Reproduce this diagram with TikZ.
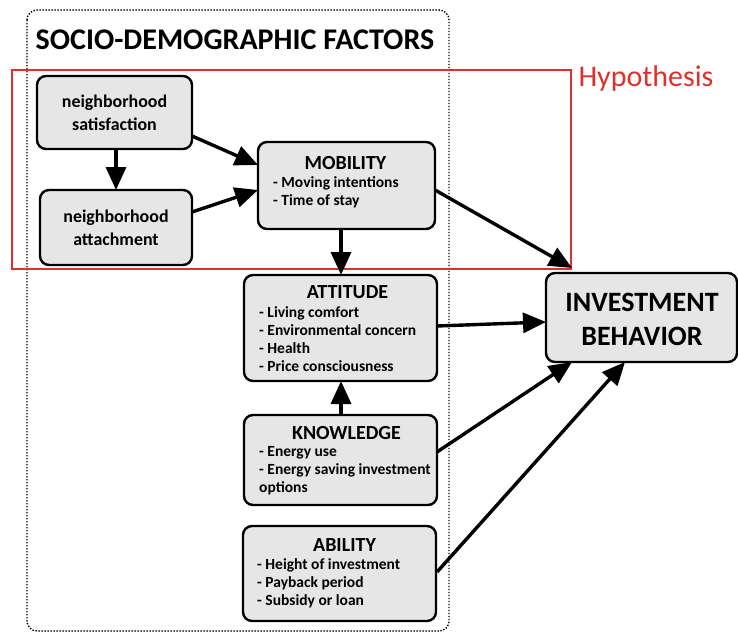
\documentclass[tikz,border=0pt]{standalone}
\usepackage{fontspec}
\setmainfont{Carlito}
\usetikzlibrary{arrows.meta}
\definecolor{boxgray}{HTML}{E6E6E6}
\definecolor{hypred}{HTML}{E0302A}
\tikzset{
  box/.style={draw=black, line width=2.4pt, rounded corners=9pt, fill=boxgray, inner sep=0pt},
  conn/.style={line width=3.4pt, -{Triangle[length=23pt,width=20pt]}},
  ttl/.style={font=\bfseries\fontsize{20}{22}\selectfont, inner sep=0pt},
  items/.style={font=\bfseries\fontsize{15.5}{18}\selectfont, align=left, inner sep=0pt, anchor=north west},
  nbtxt/.style={font=\bfseries\fontsize{17.9}{23}\selectfont, align=center, inner sep=0pt}
}
\begin{document}
\begin{tikzpicture}[x=1pt,y=-1pt]
\useasboundingbox (0,0) rectangle (738,634);
% outer dotted frame
\draw[line width=1.4pt, dash pattern=on 1.4pt off 1.6pt, rounded corners=10pt] (27,10) rectangle (449,631);
\node[font=\bfseries\fontsize{30}{33}\selectfont, inner sep=0pt] (title) at (235,40) {SOCIO-DEMOGRAPHIC FACTORS};
% hypothesis frame
\draw[hypred, line width=1.6pt] (12,70) rectangle (571,269);
\node[hypred, font=\fontsize{30}{33}\selectfont, inner sep=0pt] (hyp) at (646,79) {Hypothesis};
% boxes
\node[box, minimum width=155pt, minimum height=73pt] (sat) at (114.5,112.5) {};
\node[nbtxt] (satt) at (114.5,113) {neighborhood\\satisfaction};
\node[box, minimum width=152pt, minimum height=75pt] (att) at (116,227.5) {};
\node[nbtxt] (attt) at (116,228) {neighborhood\\attachment};
\node[box, minimum width=177pt, minimum height=87pt] (mob) at (346.5,185.5) {};
\node[ttl] (mobt) at (345.5,163) {MOBILITY};
\node[items] (mobi) at (273,176.5) {- Moving intentions\\- Time of stay};
\node[box, minimum width=193pt, minimum height=106pt] (atd) at (340.5,328) {};
\node[ttl] (atdt) at (347.5,292) {ATTITUDE};
\node[items] (atdi) at (259,306) {- Living comfort\\- Environmental concern\\- Health\\- Price consciousness};
\node[box, minimum width=193pt, minimum height=90pt] (knw) at (340.5,460) {};
\node[ttl] (knwt) at (346.5,433) {KNOWLEDGE};
\node[items] (knwi) at (259,446.5) {- Energy use\\- Energy saving investment\\options};
\node[box, minimum width=193pt, minimum height=95pt] (abl) at (339.5,573.5) {};
\node[ttl] (ablt) at (344.5,545) {ABILITY};
\node[items] (abli) at (257,558.5) {- Height of investment\\- Payback period\\- Subsidy or loan};
\node[box, minimum width=191pt, minimum height=89pt] (inv) at (641.5,317.5) {};
\node[font=\bfseries\fontsize{28}{34}\selectfont, align=center, inner sep=0pt] (invt) at (642,319) {INVESTMENT\\BEHAVIOR};
% anchor coordinates
\coordinate (satb) at (116,149);
\coordinate (attT) at (116,190);
\coordinate (satr) at (192,136);
\coordinate (mobl1) at (258,165);
\coordinate (attr) at (192,212);
\coordinate (mobl2) at (258,190);
\coordinate (mobb) at (341,229);
\coordinate (atdT) at (341,275);
\coordinate (mobr) at (435,190);
\coordinate (invc) at (572,268);
\coordinate (atdr) at (437,326);
\coordinate (invl) at (546,322);
\coordinate (knwr) at (437,452);
\coordinate (invb1) at (572,362);
\coordinate (ablr) at (437,572);
\coordinate (invb2) at (625,362);
\coordinate (knwT) at (341,415);
\coordinate (atdb) at (341,381);
% connectors
\draw[conn] (satb) -- (attT);
\draw[conn] (satr) -- (mobl1);
\draw[conn] (attr) -- (mobl2);
\draw[conn] (mobb) -- (atdT);
\draw[conn] (mobr) -- (invc);
\draw[conn] (atdr) -- (invl);
\draw[conn] (knwr) -- (invb1);
\draw[conn] (ablr) -- (invb2);
\draw[conn] (knwT) -- (atdb);
\end{tikzpicture}
\end{document}
